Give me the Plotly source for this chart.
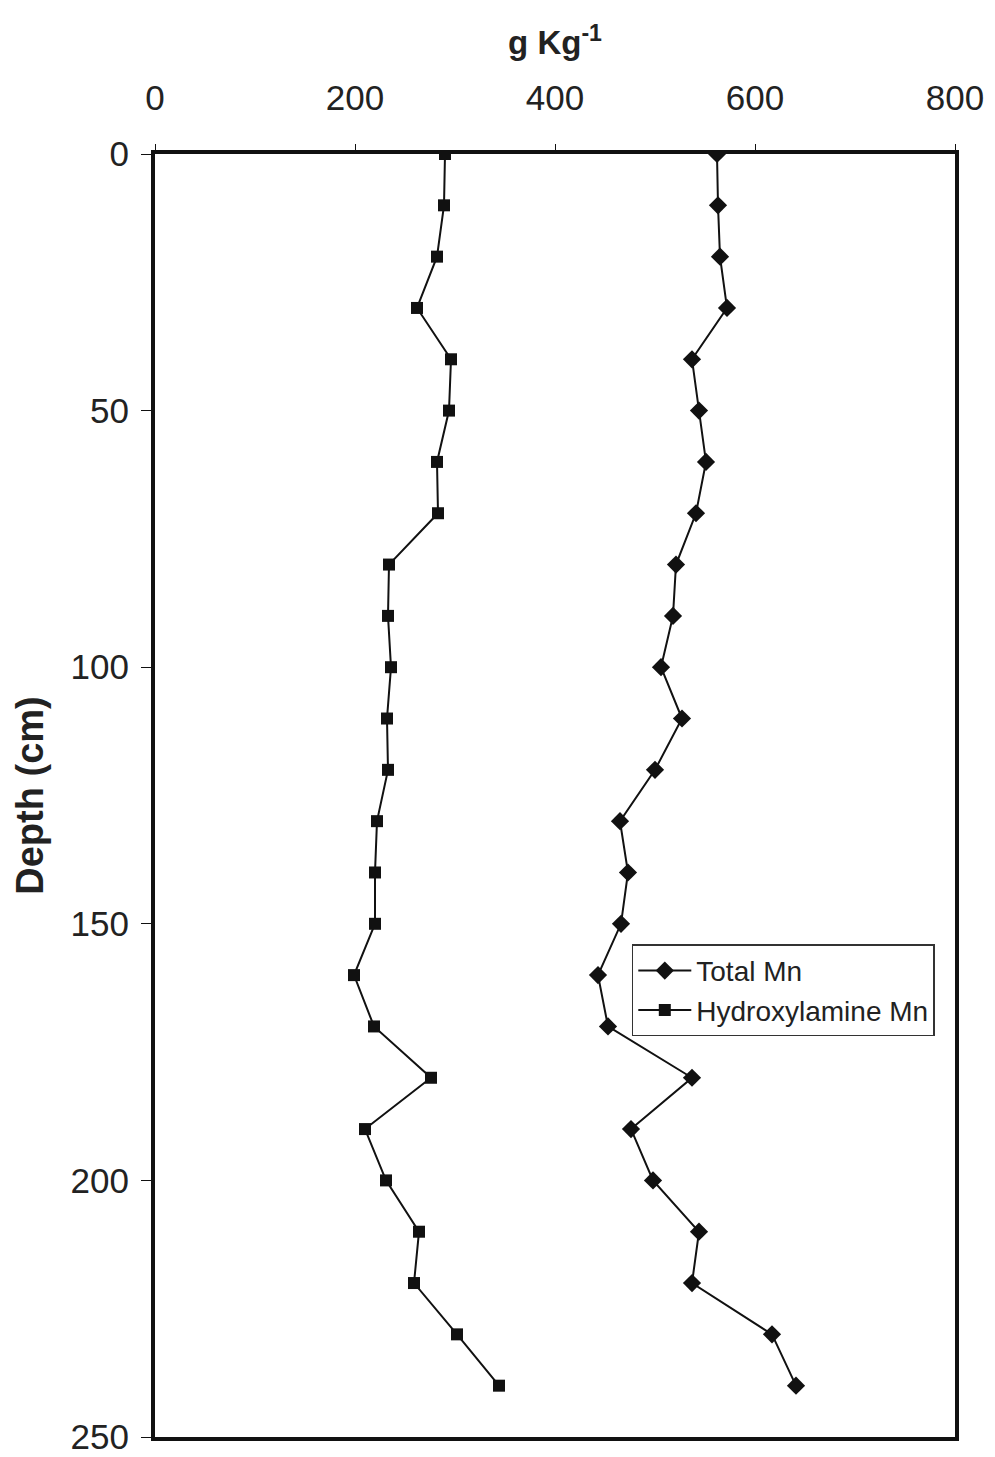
import plotly.graph_objects as go

depth = [0, 10, 20, 30, 40, 50, 60, 70, 80, 90, 100, 110, 120, 130, 140, 150, 160, 170, 180, 190, 200, 210, 220, 230, 240]
total_mn = [562, 563, 565, 572, 537, 544, 551, 541, 521, 518, 506, 527, 500, 465, 473, 466, 443, 453, 537, 476, 498, 544, 537, 617, 641]
hydroxylamine_mn = [290, 289, 282, 262, 296, 294, 282, 283, 234, 233, 236, 232, 233, 222, 220, 220, 199, 219, 276, 210, 231, 264, 259, 302, 344]
x_ticks = [0, 200, 400, 600, 800]
y_ticks = [0, 50, 100, 150, 200, 250]

fig = go.Figure()
fig.add_trace(go.Scatter(x=total_mn, y=depth, mode="lines+markers", name="Total Mn",
                         line=dict(color="#111", width=2),
                         marker=dict(symbol="diamond", size=14, color="#111")))
fig.add_trace(go.Scatter(x=hydroxylamine_mn, y=depth, mode="lines+markers", name="Hydroxylamine Mn",
                         line=dict(color="#111", width=2),
                         marker=dict(symbol="square", size=12, color="#111")))

font = "Liberation Sans, Arial, sans-serif"
fig.update_layout(
    width=995, height=1457,
    margin=dict(l=147, r=48, t=146, b=28),
    paper_bgcolor="white", plot_bgcolor="white",
    font=dict(family=font, color="#222", size=35),
    showlegend=True,
    legend=dict(x=0.596, y=0.384, xanchor="left", yanchor="top",
                bordercolor="#333", borderwidth=1.5, bgcolor="white",
                font=dict(size=28, family=font), tracegroupgap=0, itemwidth=53),
    xaxis=dict(side="top", range=[0, 800], tickvals=x_ticks, showgrid=False, zeroline=False,
               showline=True, linecolor="#111", linewidth=4, mirror=True, automargin=False,
               ticks="outside", ticklen=6, tickcolor="#111", ticklabelstandoff=20,
               tickfont=dict(size=35),
               title=dict(text="<b>g Kg<sup>-1</sup></b>", font=dict(size=33), standoff=14)),
    yaxis=dict(range=[250, 0], tickvals=y_ticks, showgrid=False, zeroline=False,
               showline=True, linecolor="#111", linewidth=4, mirror=True, automargin=False,
               ticks="outside", ticklen=10, tickcolor="#111", ticklabelstandoff=5,
               tickfont=dict(size=35),
               title=dict(text="<b>Depth (cm)</b>", font=dict(size=38), standoff=16)),
)

fig.write_html("out.html")
